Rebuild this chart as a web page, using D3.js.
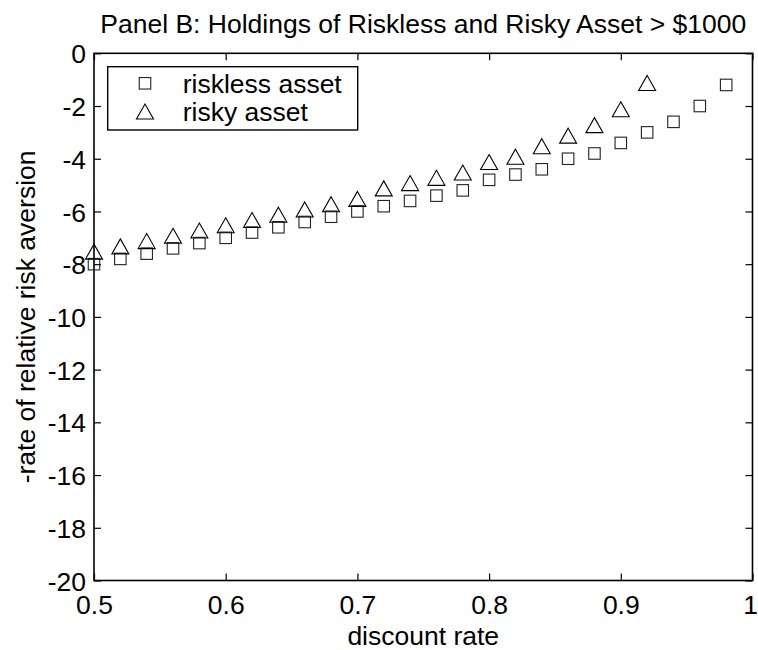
<!DOCTYPE html>
<html><head><meta charset="utf-8">
<script src="https://cdn.jsdelivr.net/npm/d3@7"></script>
<style>body{margin:0;background:#fff}svg{display:block}text{font-family:"Liberation Sans",Arial,Helvetica,sans-serif;fill:#000}</style>
</head><body>
<svg id="chart" width="758" height="650"></svg>
<script>
const titleText = "Panel B: Holdings of Riskless and Risky Asset > $1000";
const xLabel = "discount rate";
const yLabel = "-rate of relative risk aversion";
const xTicks = [0.5, 0.6, 0.7, 0.8, 0.9, 1];
const yTicks = [0, -2, -4, -6, -8, -10, -12, -14, -16, -18, -20];
const risklessX = [0.50,0.52,0.54,0.56,0.58,0.60,0.62,0.64,0.66,0.68,0.70,0.72,0.74,0.76,0.78,0.80,0.82,0.84,0.86,0.88,0.90,0.92,0.94,0.96,0.98];
const risklessY = [-8.0,-7.8,-7.6,-7.4,-7.2,-7.0,-6.8,-6.6,-6.4,-6.2,-6.0,-5.8,-5.6,-5.4,-5.2,-4.8,-4.6,-4.4,-4.0,-3.8,-3.4,-3.0,-2.6,-2.0,-1.2];
const riskyX = [0.50,0.52,0.54,0.56,0.58,0.60,0.62,0.64,0.66,0.68,0.70,0.72,0.74,0.76,0.78,0.80,0.82,0.84,0.86,0.88,0.90,0.92];
const riskyY = [-7.6,-7.4,-7.2,-7.0,-6.8,-6.6,-6.4,-6.2,-6.0,-5.8,-5.6,-5.2,-5.0,-4.8,-4.6,-4.2,-4.0,-3.6,-3.2,-2.8,-2.2,-1.2];
const seriesNames = ["riskless asset", "risky asset"];

const svg = d3.select("#chart");
const L = 94, R = 752.5, T = 53.3, B = 580.5;
const x = d3.scaleLinear().domain([0.5, 1]).range([L, R]);
const y = d3.scaleLinear().domain([-20, 0]).range([B, T]);
const fs = 26.5;
const tickLen = 7;

const g = svg.append("g");

const xFmt = d => d === 1 ? "1" : d.toFixed(1);
const yFmt = d => String(d);

g.append("g").attr("transform", `translate(0,${B})`)
  .call(d3.axisBottom(x).tickValues(xTicks).tickFormat(xFmt).tickSizeInner(-tickLen).tickSizeOuter(0).tickPadding(0))
  .call(a => { a.select(".domain").remove(); a.selectAll("line").attr("stroke","#000").attr("stroke-width",1.2);
    a.selectAll("text").attr("dy", null)
      .attr("y", 33).attr("x", d => d === 1 ? -2.5 : 0)
      .style("font-size", fs+"px").style("font-family",'"Liberation Sans",Arial,sans-serif'); });
g.append("g").attr("transform", `translate(0,${T})`)
  .call(d3.axisTop(x).tickValues(xTicks).tickFormat("").tickSizeInner(-tickLen).tickSizeOuter(0))
  .call(a => { a.select(".domain").remove(); a.selectAll("line").attr("stroke","#000").attr("stroke-width",1.2); });
g.append("g").attr("transform", `translate(${L},0)`)
  .call(d3.axisLeft(y).tickValues(yTicks).tickFormat(yFmt).tickSizeInner(-tickLen).tickSizeOuter(0).tickPadding(0))
  .call(a => { a.select(".domain").remove(); a.selectAll("line").attr("stroke","#000").attr("stroke-width",1.2);
    a.selectAll("text").attr("x", -8).attr("dy", "0.36em").style("font-size", fs+"px").style("font-family",'"Liberation Sans",Arial,sans-serif'); });
g.append("g").attr("transform", `translate(${R},0)`)
  .call(d3.axisRight(y).tickValues(yTicks).tickFormat("").tickSizeInner(-tickLen).tickSizeOuter(0))
  .call(a => { a.select(".domain").remove(); a.selectAll("line").attr("stroke","#000").attr("stroke-width",1.2); });

g.append("rect").attr("x", L).attr("y", T).attr("width", R - L).attr("height", B - T)
  .attr("fill", "none").attr("stroke", "#000").attr("stroke-width", 1.6);

const sq = 11.5;
const triPath = (cx, cy) => {
  const w = 17, h = 15, top = cy - 9.5, base = top + h;
  return `M${cx},${top}L${cx + w/2},${base}L${cx - w/2},${base}Z`;
};
const riskless = risklessX.map((v, i) => ({x: v, y: risklessY[i]}));
const risky = riskyX.map((v, i) => ({x: v, y: riskyY[i]}));

g.append("g").selectAll("rect").data(riskless).join("rect")
  .attr("x", d => x(d.x) - sq/2).attr("y", d => y(d.y) - sq/2)
  .attr("width", sq).attr("height", sq)
  .attr("fill", "none").attr("stroke", "#222").attr("stroke-width", 1.1);
g.append("g").selectAll("path").data(risky).join("path")
  .attr("d", d => triPath(x(d.x), y(d.y)))
  .attr("fill", "none").attr("stroke", "#000").attr("stroke-width", 1.1);

svg.append("text").attr("x", (L + R) / 2).attr("y", 33).attr("text-anchor", "middle")
  .style("font-size", fs + "px").text(titleText);
svg.append("text").attr("x", (L + R) / 2).attr("y", 645).attr("text-anchor", "middle")
  .style("font-size", fs + "px").text(xLabel);
svg.append("text").attr("transform", `translate(35,${(T + B) / 2}) rotate(-90)`).attr("text-anchor", "middle")
  .style("font-size", fs + "px").text(yLabel);

const lg = svg.append("g");
lg.append("rect").attr("x", 107.7).attr("y", 66.7).attr("width", 250).attr("height", 63.3)
  .attr("fill", "#fff").attr("stroke", "#000").attr("stroke-width", 1.4);
lg.append("rect").attr("x", 145 - sq/2).attr("y", 83.3 - sq/2).attr("width", sq).attr("height", sq)
  .attr("fill", "none").attr("stroke", "#222").attr("stroke-width", 1.1);
lg.append("path").attr("d", triPath(145, 113.5)).attr("fill", "none").attr("stroke", "#000").attr("stroke-width", 1.1);
lg.append("text").attr("x", 182.7).attr("y", 93.3).style("font-size", fs + "px").text(seriesNames[0]);
lg.append("text").attr("x", 182.7).attr("y", 120.7).style("font-size", fs + "px").text(seriesNames[1]);
</script>
</body></html>
